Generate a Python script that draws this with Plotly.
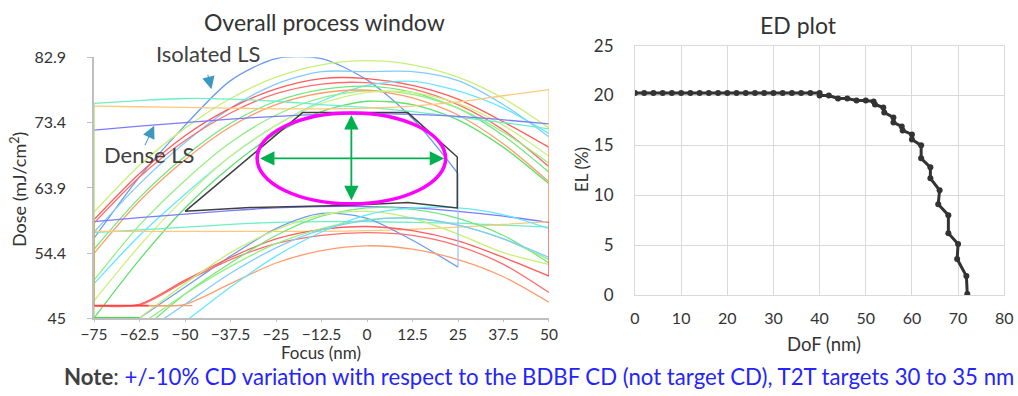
import plotly.graph_objects as go

W, H = 1018, 396
# measured mapping of the photographed page: photo = offset + scale * figure pixel
SX, OX = 0.991, 2.0
SY, OY = 0.957, 9.0

# ---------------- Left chart data: focus grid and dose boundaries ----------------
focus = [-75, -62.5, -50, -37.5, -25, -12.5, 0, 12.5, 25, 37.5, 50]

# upper boundary curves
up_blue_iso = [56.6, 65.5, 73.0, 79.5, 82.7, 82.7, 79.6, 74.0, 66.0, None, None]
up_ygreen1 = [60.4, 67.2, 72.6, 76.9, 80.0, 81.8, 82.4, 81.8, 80.0, 76.9, 72.6]
up_lblue = [57.5, 64.5, 70.5, 75.5, 79.0, 80.8, 80.8, 80.8, 79.5, 76.0, 71.3]
up_red1 = [59.3, 66.0, 71.5, 75.5, 78.3, 79.8, 79.8, 78.8, 76.8, 73.5, 69.8]
up_red2 = [58.8, 65.5, 70.8, 74.8, 77.6, 79.0, 79.2, 78.3, 76.0, 72.3, 67.0]
up_cyan = [50.0, 57.0, 63.0, 68.5, 73.0, 76.5, 78.8, 79.4, 78.0, 75.5, 71.8]
up_green1 = [55.0, 62.5, 68.5, 73.3, 76.5, 78.2, 78.7, 77.8, 75.5, 71.5, 66.2]
up_green2 = [50.5, 58.5, 65.0, 70.5, 74.5, 77.0, 78.0, 77.5, 75.5, 72.0, 67.5]
up_orange = [54.4, 62.0, 68.0, 72.8, 76.0, 77.7, 78.1, 77.0, 74.5, 70.3, 64.8]
up_ygreen2 = [47.5, 55.5, 62.5, 68.5, 73.0, 76.2, 77.8, 77.8, 76.2, 73.0, 68.5]
up_green3 = [45.0, 53.5, 61.0, 67.0, 71.8, 75.0, 76.5, 76.0, 73.8, 69.8, 64.5]
up_teal = [76.2, 76.6, 76.9, 76.8, 76.5, 76.0, 75.6, 75.0, 74.2, 73.4, 72.5]
up_orange_flat = [75.8, 75.7, 75.6, 75.5, 75.4, 75.4, 75.5, 75.8, 76.4, 77.3, 78.2]
up_purple = [72.3, 72.9, 73.4, 73.9, 74.3, 74.6, 74.7, 74.6, 74.3, 73.8, 73.2]

# lower boundary curves
lo_purple = [59.0, 59.6, 60.1, 60.6, 61.0, 61.2, 61.2, 61.0, 60.5, 59.8, 58.9]
lo_teal = [57.4, 57.8, 58.2, 58.6, 58.9, 59.0, 59.0, 58.9, 58.8, 58.5, 58.2]
lo_orange_flat = [57.6, 57.6, 57.6, 57.6, 57.6, 57.6, 57.7, 57.9, 58.2, 58.6, 59.0]
lo_blue_iso = [40.5, 45.0, 49.5, 54.0, 58.0, 60.2, 59.5, 56.3, 52.4, None, None]
lo_red1 = [46.8, 47.0, 50.5, 53.8, 56.5, 57.9, 58.3, 57.7, 56.2, 53.8, 51.1]
lo_red2 = [46.8, 46.9, 50.3, 53.5, 55.8, 57.0, 57.4, 57.0, 55.5, 52.8, 48.7]
lo_orange = [46.8, 46.8, 47.0, 50.0, 53.0, 54.8, 55.5, 55.0, 53.5, 51.0, 47.3]
lo_green1 = [38.0, 43.0, 48.5, 53.0, 57.0, 59.8, 61.0, 60.8, 59.5, 57.0, 53.0]
lo_ygreen = [40.0, 45.0, 50.0, 54.5, 57.8, 60.0, 60.5, 59.5, 57.2, 54.5, 52.8]
lo_cyan = [37.0, 40.0, 44.5, 49.5, 54.0, 57.5, 60.0, 61.0, 61.0, 60.0, 58.0]
lo_green2 = [40.0, 44.0, 48.5, 52.5, 55.8, 58.0, 59.3, 59.5, 58.5, 56.5, 53.5]
lo_lblue = [38.0, 42.5, 47.0, 51.5, 55.2, 57.8, 59.2, 59.5, 58.5, 56.5, 53.8]

# closing segments of individual windows (focus pair, dose pair)
seg_red_left = ([-75, -75], [46.8, 59.3])
seg_red_right = ([50, 50], [51.1, 69.8])
seg_green_left = ([-75, -75], [45.0, 76.2])
seg_orange_right = ([50, 50], [59.0, 78.2])
seg_blue_25 = ([25, 25], [52.4, 66.0])
seg_green_floor = ([-75, -62.5], [45.0, 45.0])
seg_red_floor = ([-75, -60], [46.8, 46.8])
seg_orange_floor = ([-60, -48], [46.8, 46.8])

# overlapping process window (black polygon)
win_focus = [-50, -17.7, 11.2, 24.8, 24.8, 11.2, -4.1, -32.1, -50]
win_dose = [60.5, 74.85, 74.85, 68.4, 61.0, 61.8, 61.4, 61.05, 60.5]

# ellipse (focus/dose extents) and its axes
ell_focus = [-30.2, 21.6]
ell_dose = [61.6, 74.8]
ell_center = [-4.3, 68.2]

x_ticks = [-75, -62.5, -50, -37.5, -25, -12.5, 0, 12.5, 25, 37.5, 50]
x_ticklabels = ["\u221275", "\u221262.5", "\u221250", "\u221237.5", "\u221225", "\u221212.5",
                "0", "12.5", "25", "37.5", "50"]
y_ticks = [45, 54.4, 63.9, 73.4, 82.9]

# ---------------- Right chart data: ED plot ----------------
dof = [0, 2, 4, 6, 8, 10, 12, 14, 16, 18, 20, 22, 24, 26, 28, 30, 32, 34, 36, 38, 40,
       40, 42, 44, 46, 48, 50, 51.7, 52, 53.8, 54, 56, 56, 57.8, 58, 60, 60,
       62, 62, 64, 64, 66, 65.7, 67.9, 67.9, 70, 69.8, 71.8, 72]
el = [20.25] * 21 + [20.0, 20.0, 19.7, 19.7, 19.5, 19.5, 19.4, 19.1, 18.8, 18.3,
                     17.8, 17.3, 16.9, 16.5, 16.1, 15.6, 15.0, 13.7, 12.8, 11.7,
                     10.5, 9.1, 8.0, 6.2, 5.1, 3.6, 1.9, 0.1]

# ---------------- Figure ----------------
fig = go.Figure()

curves = [
    (up_blue_iso, "#6b9cf5"), (up_ygreen1, "#c8f074"), (up_lblue, "#82cbff"),
    (up_red1, "#ff5c5c"), (up_red2, "#ff6e6e"), (up_cyan, "#62e8ff"),
    (up_green1, "#72e87c"), (up_green2, "#94ef84"), (up_orange, "#ff9c6c"),
    (up_ygreen2, "#d0f07e"), (up_green3, "#60e06c"), (up_teal, "#6af0c4"),
    (up_orange_flat, "#ffc87a"), (up_purple, "#7b7bff"),
    (lo_purple, "#7b7bff"), (lo_teal, "#6af0c4"), (lo_orange_flat, "#ffc87a"),
    (lo_blue_iso, "#6b9cf5"), (lo_red1, "#ff5c5c"), (lo_red2, "#ff6e6e"),
    (lo_orange, "#ff9c6c"), (lo_green1, "#72e87c"), (lo_ygreen, "#c8f074"),
    (lo_cyan, "#62e8ff"), (lo_green2, "#94ef84"), (lo_lblue, "#82cbff"),
]
for vals, col in curves:
    fig.add_trace(go.Scatter(x=focus, y=vals, mode="lines", xaxis="x", yaxis="y",
                             line=dict(color=col, width=1.3, shape="spline", smoothing=0.8),
                             hoverinfo="skip"))

segments = [
    (seg_red_left, "#ff4040", 1.6), (seg_red_right, "#ff4040", 1.3),
    (seg_green_left, "#b0e060", 1.3), (seg_orange_right, "#ffc87a", 1.3),
    (seg_blue_25, "#9cc4ff", 1.3), (seg_green_floor, "#40e040", 2.0),
    (seg_red_floor, "#ff4040", 1.6), (seg_orange_floor, "#ff9c6c", 1.3),
]
for (sx, sy), col, w in segments:
    fig.add_trace(go.Scatter(x=sx, y=sy, mode="lines", xaxis="x", yaxis="y",
                             line=dict(color=col, width=w), hoverinfo="skip"))

fig.add_trace(go.Scatter(x=win_focus, y=win_dose, mode="lines", xaxis="x", yaxis="y",
                         line=dict(color="#404040", width=1.5), hoverinfo="skip"))

fig.add_shape(type="circle", xref="x", yref="y",
              x0=ell_focus[0], x1=ell_focus[1], y0=ell_dose[0], y1=ell_dose[1],
              line=dict(color="#ff00ff", width=3.5))

fig.add_trace(go.Scatter(x=dof, y=el, mode="lines+markers", xaxis="x2", yaxis="y2",
                         line=dict(color="#333333", width=3),
                         marker=dict(color="#333333", size=6), hoverinfo="skip"))

FONT = "Lato"
axis_col = "#bfbfbf"
txt_col = "#333333"


def px(x):
    """target photo pixel x -> paper fraction"""
    return min(1.0, (x - OX) / SX / W)


def py(y):
    """target photo pixel y (from top) -> paper fraction"""
    return 1 - (y - OY) / SY / H


L_dom_x = [px(84.1), px(544.9)]
L_dom_y = [py(319.3), py(55.7)]
R_dom_x = [px(632), px(1006)]
R_dom_y = [py(296), py(44)]

fig.update_layout(
    width=W, height=H, margin=dict(l=0, r=0, t=0, b=0),
    paper_bgcolor="white", plot_bgcolor="white", showlegend=False,
    font=dict(family=FONT, color=txt_col),
    xaxis=dict(domain=L_dom_x, range=[-75, 50], tickvals=x_ticks, ticktext=x_ticklabels,
               showgrid=False, zeroline=False, showline=True, linecolor=axis_col, linewidth=1.5,
               ticks="outside", ticklen=2, tickcolor=axis_col, anchor="y",
               tickfont=dict(size=15.5, color=txt_col)),
    yaxis=dict(domain=L_dom_y, range=[45, 82.9], tickvals=y_ticks,
               ticktext=[str(v) for v in y_ticks],
               showgrid=False, zeroline=False, showline=True, linecolor=axis_col, linewidth=1.5,
               ticks="outside", ticklen=5, tickcolor=axis_col, anchor="x",
               ticklabelstandoff=18,
               tickfont=dict(size=16, color=txt_col)),
    xaxis2=dict(domain=R_dom_x, range=[0, 80], dtick=10, anchor="y2",
                showgrid=True, gridcolor="#d9d9d9", zeroline=False,
                showline=True, mirror=True, linecolor="#d9d9d9",
                ticklabelstandoff=9,
                tickfont=dict(size=16, color=txt_col)),
    yaxis2=dict(domain=R_dom_y, range=[0, 25], dtick=5, anchor="x2",
                showgrid=True, gridcolor="#d9d9d9", zeroline=False,
                showline=True, mirror=True, linecolor="#d9d9d9",
                ticklabelstandoff=17,
                tickfont=dict(size=17, color=txt_col)),
)

ann = [
    dict(text="Overall process window", x=px(318), y=py(20), font=dict(size=23)),
    dict(text="ED plot", x=px(798), y=py(23), font=dict(size=23)),
    dict(text="Focus (nm)", x=px(314), y=py(354), font=dict(size=17)),
    dict(text="DoF (nm)", x=px(823), y=py(346), font=dict(size=18.5)),
    dict(text="Dose (mJ/cm<sup>2</sup>)", x=px(8), y=py(189), font=dict(size=18), textangle=-90),
    dict(text="EL (%)", x=px(578), y=py(169), font=dict(size=17), textangle=-90),
    dict(text="Isolated LS", x=px(200), y=py(52), font=dict(size=22, color="#404040")),
    dict(text="Dense LS", x=px(140), y=py(154), font=dict(size=22, color="#404040")),
    dict(text="<b>Note</b>: <span style='color:#2424ff'>+/-10% CD variation with respect to the BDBF CD "
              "(not target CD), T2T targets 30 to 35 nm</span>",
         x=px(535), y=py(378), font=dict(size=22.2, color="#404040")),
]
for a in ann:
    a.update(xref="paper", yref="paper", showarrow=False, xanchor="center", yanchor="middle")
    fig.add_annotation(**a)

# pointer arrows for labels
fig.add_annotation(xref="paper", yref="paper", x=px(203), y=py(88), ax=-4, ay=-16,
                   showarrow=True, arrowhead=2, arrowsize=2.5, arrowwidth=1, arrowcolor="#3d97bf", text="")
fig.add_annotation(xref="paper", yref="paper", x=px(145), y=py(125), ax=-10, ay=21,
                   showarrow=True, arrowhead=2, arrowsize=2.5, arrowwidth=1, arrowcolor="#3d97bf", text="")

# green double arrows on the ellipse
fig.add_annotation(xref="x", yref="y", axref="x", ayref="y",
                   x=ell_focus[1] - 0.4, y=ell_center[1], ax=ell_focus[0] + 0.4, ay=ell_center[1],
                   showarrow=True, arrowhead=2, startarrowhead=2, arrowside="end+start",
                   arrowsize=1.6, startarrowsize=1.6, arrowwidth=1.8, arrowcolor="#00b050", text="")
fig.add_annotation(xref="x", yref="y", axref="x", ayref="y",
                   x=ell_center[0], y=ell_dose[1] - 0.3, ax=ell_center[0], ay=ell_dose[0] + 0.3,
                   showarrow=True, arrowhead=2, startarrowhead=2, arrowside="end+start",
                   arrowsize=1.6, startarrowsize=1.6, arrowwidth=1.8, arrowcolor="#00b050", text="")

fig.write_html("out.html")
